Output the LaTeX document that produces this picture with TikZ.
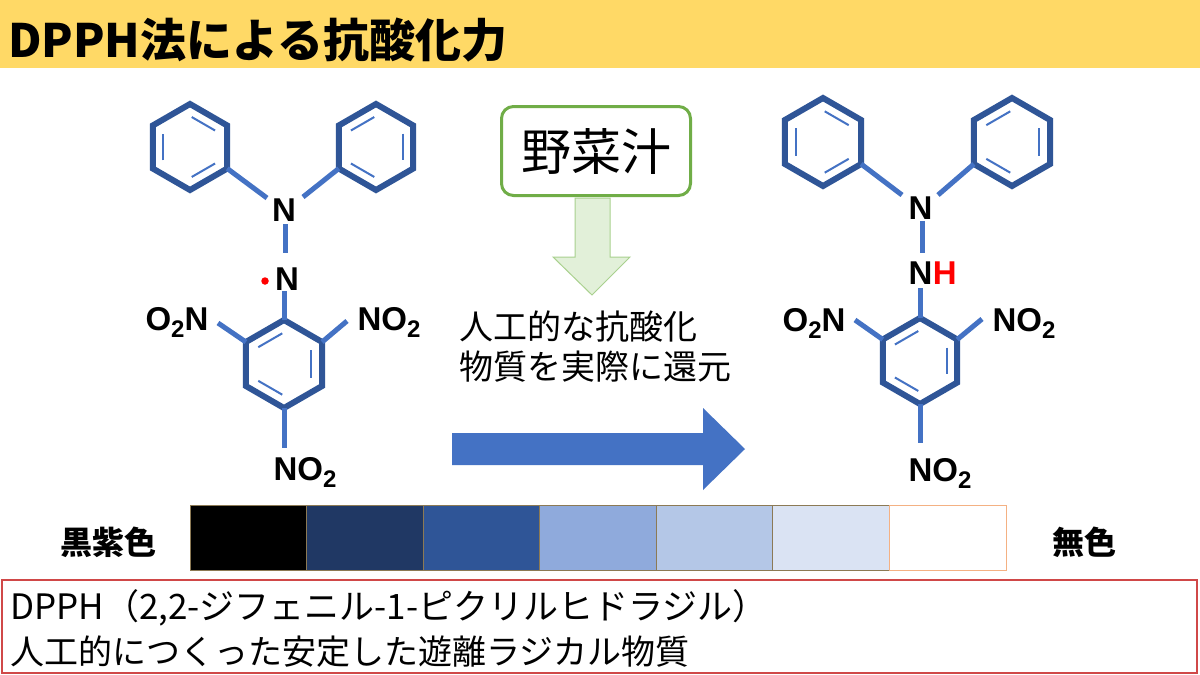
\documentclass[tikz,border=0pt]{standalone}
\usepackage{fontspec}
\setmainfont{Liberation Sans}
\newfontfamily\jp{Noto Sans CJK JP}
\usetikzlibrary{calc}
\definecolor{titlebar}{HTML}{FFD966}
\definecolor{ringblue}{HTML}{2F5597}
\definecolor{bondblue}{HTML}{4472C4}
\definecolor{boxgreen}{HTML}{70AD47}
\definecolor{arrowgreenfill}{HTML}{E2F0D9}
\definecolor{arrowgreenline}{HTML}{A9D18E}
\definecolor{cA}{HTML}{000000}
\definecolor{cB}{HTML}{203864}
\definecolor{cC}{HTML}{2F5597}
\definecolor{cD}{HTML}{8FAADC}
\definecolor{cE}{HTML}{B4C7E7}
\definecolor{cF}{HTML}{DAE3F3}
\definecolor{cG}{HTML}{FFFFFF}
\definecolor{cellline}{HTML}{8C7A55}
\definecolor{celllast}{HTML}{F4B183}
\definecolor{boxred}{HTML}{D04848}
\newcommand\subtwo{\raisebox{-0.22em}{\fontsize{24}{24}\selectfont 2}}
\newcommand\hexring[4]{%
  \coordinate (#1c) at (#2,#3);
  \coordinate (#1v1) at (#2,#3-#4);
  \coordinate (#1v2) at (#2+0.866*#4,#3-0.5*#4);
  \coordinate (#1v3) at (#2+0.866*#4,#3+0.5*#4);
  \coordinate (#1v4) at (#2,#3+#4);
  \coordinate (#1v5) at (#2-0.866*#4,#3+0.5*#4);
  \coordinate (#1v6) at (#2-0.866*#4,#3-0.5*#4);
  \draw[ring] (#1v1)--(#1v2)--(#1v3)--(#1v4)--(#1v5)--(#1v6)--cycle;
}
\newcommand\innerbond[3]{%
  \draw[innerl] ($(#1c)!0.72!(#1v#2)$) -- ($(#1c)!0.72!(#1v#3)$);
}
\begin{document}
\begin{tikzpicture}[x=1pt,y=-1pt,
  ring/.style={draw=ringblue,line width=6pt,line join=miter},
  bond/.style={draw=bondblue,line width=5pt},
  innerl/.style={draw=bondblue,line width=2pt,shorten >=2pt,shorten <=2pt},
  atom/.style={font=\fontsize{33}{33}\selectfont\bfseries,inner sep=0pt,anchor=base},
  jptext/.style={font=\jp\fontsize{34}{34}\selectfont,inner sep=0pt,anchor=west},
  cell/.style={draw=cellline,line width=1pt},
]
\useasboundingbox (0,0) rectangle (1200,675);
\fill[white] (0,0) rectangle (1200,675);
% title
\fill[titlebar] (0,0) rectangle (1200,68);
\node[font=\jp\bfseries\fontsize{46}{46}\selectfont,inner sep=0pt,anchor=west] (title) at (8,40) {DPPH法による抗酸化力};

% ---------- left molecule ----------
\hexring{LA}{190}{147}{43}
\hexring{LB}{376}{147}{43}
\hexring{LC}{284}{364}{44}
\innerbond{LA}{1}{2}\innerbond{LA}{5}{6}\innerbond{LA}{3}{4}
\innerbond{LB}{6}{1}\innerbond{LB}{2}{3}\innerbond{LB}{4}{5}
\innerbond{LC}{6}{1}\innerbond{LC}{2}{3}\innerbond{LC}{4}{5}
\node[atom] (LN1) at (284,221) {N};
\node[atom] (LN2) at (287,290) {N};
\node[circle,fill=red,minimum size=7.5pt,inner sep=0pt] (Ldot) at (265,281) {};
\node[atom] (LO2N) at (177,330) {O\subtwo N};
\node[atom] (LNO2r) at (389,330) {NO\subtwo};
\node[atom] (LNO2b) at (305,480) {NO\subtwo};
\coordinate (Lb1) at (267,198);
\coordinate (Lb2) at (303,197);
\coordinate (Lb3a) at (285,224);
\coordinate (Lb3b) at (285,253);
\coordinate (Lb4) at (284,291);
\coordinate (Lb5) at (218,323);
\coordinate (Lb6) at (347,321);
\coordinate (Lb7) at (284,448);
\draw[bond] (LAv3) -- (Lb1);
\draw[bond] (LBv5) -- (Lb2);
\draw[bond] (Lb3a) -- (Lb3b);
\draw[bond] (Lb4) -- (LCv1);
\draw[bond] (LCv6) -- (Lb5);
\draw[bond] (LCv2) -- (Lb6);
\draw[bond] (LCv4) -- (Lb7);

% ---------- right molecule ----------
\hexring{RA}{823}{142}{44}
\hexring{RB}{1012}{142}{44}
\hexring{RC}{920}{361}{43}
\innerbond{RA}{1}{2}\innerbond{RA}{5}{6}\innerbond{RA}{3}{4}
\innerbond{RB}{6}{1}\innerbond{RB}{2}{3}\innerbond{RB}{4}{5}
\innerbond{RC}{6}{1}\innerbond{RC}{2}{3}\innerbond{RC}{4}{5}
\node[atom] (RN1) at (920.5,219) {N};
\node[atom] (RN2) at (920.5,284) {N};
\node[atom,anchor=base west,text=red] (RH) at (RN2.base east) {H};
\node[atom] (RO2N) at (814,331) {O\subtwo N};
\node[atom] (RNO2r) at (1024,331) {NO\subtwo};
\node[atom] (RNO2b) at (940,481) {NO\subtwo};
\coordinate (Rb1) at (902,195);
\coordinate (Rb2) at (938,195);
\coordinate (Rb3a) at (922,221);
\coordinate (Rb3b) at (922,253);
\coordinate (Rb4) at (920,288);
\coordinate (Rb5) at (855,320);
\coordinate (Rb6) at (982,319);
\coordinate (Rb7) at (920,443);
\draw[bond] (RAv3) -- (Rb1);
\draw[bond] (RBv5) -- (Rb2);
\draw[bond] (Rb3a) -- (Rb3b);
\draw[bond] (Rb4) -- (RCv1);
\draw[bond] (RCv6) -- (Rb5);
\draw[bond] (RCv2) -- (Rb6);
\draw[bond] (RCv4) -- (Rb7);

% ---------- middle ----------
\node[draw=boxgreen,line width=3pt,rounded corners=12pt,fill=white,
      minimum width=189pt,minimum height=89pt,inner sep=0pt,
      font=\jp\fontsize{50}{50}\selectfont] (juice) at (596,151) {野菜汁};
\coordinate (gtip) at (592,295);
\draw[fill=arrowgreenfill,draw=arrowgreenline,line width=1pt]
  (575,198) -- (610,198) -- (610,257) -- (630,257) -- (gtip) -- (553,257) -- (575,257) -- cycle;
\node[jptext] (t1) at (459,327) {人工的な抗酸化};
\node[jptext] (t2) at (459,367) {物質を実際に還元};
\coordinate (btip) at (745,449);
\fill[bondblue] (452,433) -- (703,433) -- (703,408) -- (btip) -- (703,490) -- (703,465) -- (452,465) -- cycle;

% ---------- colour bar ----------
\foreach \c [count=\i from 0] in {cA,cB,cC,cD,cE,cF} {
  \fill[\c] (190+116.57*\i,505) rectangle (190+116.57*\i+116.57,570);
  \draw[cell] (190+116.57*\i,505) rectangle (190+116.57*\i+116.57,570);
}
\draw[draw=celllast,line width=1pt,fill=white] (889.4,505) rectangle (1006,570);
\node[font=\jp\bfseries\fontsize{32}{32}\selectfont,inner sep=0pt] (dark) at (108,542) {黒紫色};
\node[font=\jp\bfseries\fontsize{32}{32}\selectfont,inner sep=0pt] (clear) at (1084,542) {無色};

% ---------- bottom box ----------
\draw[boxred,line width=1.5pt] (2,580) rectangle (1197,673);
\node[font=\jp\fontsize{35}{35}\selectfont,inner sep=0pt,anchor=west] (b1) at (10,608) {DPPH（2,2-ジフェニル-1-ピクリルヒドラジル）};
\node[font=\jp\fontsize{34}{34}\selectfont,inner sep=0pt,anchor=west] (b2) at (10,652) {人工的につくった安定した遊離ラジカル物質};
\end{tikzpicture}
\end{document}
